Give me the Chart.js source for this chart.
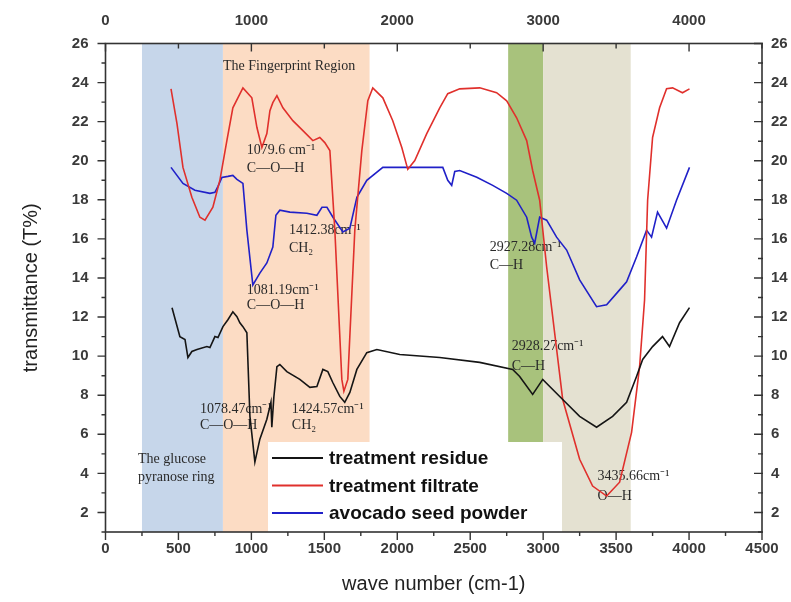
<!DOCTYPE html>
<html><head><meta charset="utf-8">
<script src="https://cdn.jsdelivr.net/npm/chart.js@4.4.0/dist/chart.umd.min.js"></script>
<style>html,body{margin:0;padding:0;background:#fff}#wrap{width:791px;height:602px;position:relative}</style>
</head><body><div id="wrap"><canvas id="c" width="791" height="602"></canvas></div>
<script>
// ---- tick labels ----
const xTicksBottom = [0,500,1000,1500,2000,2500,3000,3500,4000,4500];
const xTicksTop = [0,1000,2000,3000,4000];
const yTicks = [2,4,6,8,10,12,14,16,18,20,22,24,26];

// ---- series ----
const seriesNames = ['treatment residue','treatment filtrate','avocado seed powder'];

const residueX = [456,510,545,565,592,627,695,716,750,771,805,839,873,901,921,942,969,990,1024,1058,1106,1134,1140,1154,1175,1195,1243,1332,1401,1449,1490,1524,1558,1606,1640,1675,1723,1791,1860,2017,2291,2565,2791,2839,2928,2997,3134,3250,3366,3476,3572,3640,3682,3750,3818,3866,3935,4003];
const residueY = [12.48,11.0,10.85,9.93,10.24,10.34,10.49,10.44,11.0,10.95,11.51,11.86,12.27,12.02,11.71,11.51,11.2,6.92,4.58,5.75,6.77,7.64,6.36,7.9,9.46,9.57,9.21,8.81,8.4,8.45,9.32,9.21,8.65,7.94,7.64,8.14,9.32,10.18,10.34,10.08,9.93,9.68,9.32,8.96,8.04,8.81,7.78,6.92,6.36,6.92,7.64,8.96,9.83,10.49,11.0,10.49,11.71,12.48];

const filtrateX = [449,490,531,592,647,682,736,784,832,873,942,1003,1038,1072,1106,1127,1147,1175,1216,1284,1353,1421,1469,1503,1538,1572,1620,1634,1661,1709,1757,1798,1832,1901,1969,2031,2072,2120,2202,2291,2346,2428,2565,2681,2750,2818,2887,2928,2976,3024,3134,3250,3339,3435,3524,3606,3661,3695,3716,3750,3798,3846,3887,3955,4003];
const filtrateY = [23.68,21.9,19.66,18.13,17.11,16.96,17.62,19.0,21.03,22.71,23.73,23.22,21.7,20.68,21.39,22.56,22.97,23.33,22.71,22.05,21.54,21.03,21.19,20.93,20.52,16.45,8.81,8.2,8.81,16.45,20.52,23.07,23.73,23.22,22.05,20.68,19.56,20.01,21.39,22.71,23.43,23.68,23.73,23.48,23.07,22.2,21.03,19.5,17.98,14.56,7.78,4.72,3.35,2.84,3.55,6.1,9.46,12.87,17.98,21.19,22.71,23.68,23.73,23.48,23.68];

const powderX = [449,531,613,716,750,771,798,839,873,901,942,969,1010,1058,1106,1147,1168,1195,1264,1380,1449,1484,1518,1559,1627,1675,1723,1791,1901,1969,2312,2346,2373,2394,2428,2545,2654,2750,2818,2887,2921,2942,2976,3024,3092,3161,3250,3366,3435,3524,3572,3640,3709,3743,3784,3846,3914,4003];
const powderY = [19.66,18.84,18.49,18.33,18.38,18.69,19.15,19.2,19.25,19.05,18.84,16.45,13.64,14.25,14.77,15.58,17.21,17.47,17.37,17.31,17.21,17.62,17.62,17.11,16.35,16.55,18.13,19.0,19.66,19.66,19.66,19.0,18.74,19.45,19.5,19.15,18.74,18.33,17.98,17.11,16.09,15.78,17.11,16.96,16.09,15.43,13.9,12.53,12.63,13.39,13.8,15.07,16.45,16.09,17.37,16.55,17.98,19.66];

// ---- shaded regions (wavenumber ranges) ----
const bandStart = [250, 805, 2760, 3000];
const bandEnd   = [805, 1810, 3000, 3600];

// ---- annotations: text, wavenumber, T% ----
const noteText = ['The Fingerprint Region','1079.6 cm\u207B\u00B9','C\u2014O\u2014H','1412.38cm\u207B\u00B9','CH\u2082','1081.19cm\u207B\u00B9','C\u2014O\u2014H','1078.47cm\u207B\u00B9','C\u2014O\u2014H','1424.57cm\u207B\u00B9','CH\u2082','The glucose','pyranose ring','2927.28cm\u207B\u00B9','C\u2014H','2928.27cm\u207B\u00B9','C\u2014H','3435.66cm\u207B\u00B9','O\u2014H'];
const noteX = [805,969,969,1257,1257,969,969,647,647,1277,1277,223,223,2634,2634,2784,2784,3373,3373];
const noteY = [24.85,20.52,19.6,16.45,15.53,13.39,12.58,7.28,6.46,7.28,6.46,4.73,3.81,15.58,14.66,10.49,9.47,3.86,2.85];

// ---- styles ----
const seriesColors = ['#151515','#e0302c','#2020c8'];
const bandColors = ['#c6d6ea','#fcdcc4','#a8c27c','#e4e1d1'];
const FONT = "'Liberation Sans', Arial, sans-serif";
const SERIF = "'Liberation Serif', 'Times New Roman', serif";

function pts(xs, ys){ return xs.map((x,i)=>({x:x, y:ys[i]})); }

const bgPlugin = {
  id:'bg',
  beforeDatasetsDraw(chart){
    const {ctx, chartArea:{top,bottom}, scales:{x,y}} = chart;
    ctx.save();
    bandStart.forEach((s,i)=>{
      const a = x.getPixelForValue(s), b = x.getPixelForValue(bandEnd[i]);
      ctx.fillStyle = bandColors[i];
      ctx.fillRect(a, top, b-a, bottom-top);
    });
    ctx.fillStyle = '#2a2a2a';
    ctx.font = '14px ' + SERIF;
    ctx.textAlign = 'left'; ctx.textBaseline = 'middle';
    noteText.forEach((t,i)=>{
      ctx.fillText(t, x.getPixelForValue(noteX[i]), y.getPixelForValue(noteY[i]));
    });
    ctx.restore();
  },
  afterDatasetsDraw(chart){
    const {ctx, chartArea:{left,right,top,bottom}, scales:{x,y}} = chart;
    ctx.save();
    // legend box
    const lx = 268, ly = 442;
    ctx.fillStyle = '#ffffff';
    ctx.fillRect(lx, ly, 294, bottom - ly);
    ctx.font = 'bold 19px ' + FONT;
    ctx.textAlign = 'left'; ctx.textBaseline = 'middle';
    seriesNames.forEach((n,i)=>{
      const yy = 458 + i*27.5;
      ctx.strokeStyle = seriesColors[i]; ctx.lineWidth = 1.8;
      ctx.beginPath(); ctx.moveTo(lx+4, yy); ctx.lineTo(lx+55, yy); ctx.stroke();
      ctx.fillStyle = '#111';
      ctx.fillText(n, lx+61, yy+1);
    });
    // frame
    ctx.strokeStyle = '#333'; ctx.lineWidth = 1.6;
    ctx.strokeRect(left, top, right-left, bottom-top);
    ctx.lineWidth = 1.4;
    ctx.beginPath();
    for (let v=0; v<=4500; v+=250){
      const px = x.getPixelForValue(v);
      const len = v%500===0 ? 8 : 4;
      ctx.moveTo(px, bottom); ctx.lineTo(px, bottom+len);
    }
    for (let v=0; v<=4500; v+=500){
      const px = x.getPixelForValue(v);
      const len = v%1000===0 ? 8 : 5;
      ctx.moveTo(px, top); ctx.lineTo(px, top+len);
    }
    for (let v=1; v<=26; v++){
      const py = y.getPixelForValue(v);
      const len = v%2===0 ? 8 : 4;
      ctx.moveTo(left-len, py); ctx.lineTo(left, py);
      ctx.moveTo(right-len, py); ctx.lineTo(right+1, py);
    }
    ctx.stroke();
    ctx.restore();
  }
};

const tickFont = {family: FONT, size: 15, weight: 'bold'};
function fixTicks(arr){ return s => { s.ticks = arr.map(v=>({value:v})); }; }
const plain = v => String(v);

new Chart(document.getElementById('c'), {
  type: 'scatter',
  data: {
    datasets: [
      {label: seriesNames[0], data: pts(residueX, residueY), borderColor: seriesColors[0]},
      {label: seriesNames[1], data: pts(filtrateX, filtrateY), borderColor: seriesColors[1]},
      {label: seriesNames[2], data: pts(powderX, powderY), borderColor: seriesColors[2]}
    ].map(d => Object.assign(d, {showLine:true, borderWidth:1.6, pointRadius:0, tension:0, fill:false, xAxisID:'x', yAxisID:'y'}))
  },
  options: {
    responsive: false, animation: false, devicePixelRatio: 1,
    layout: {padding: 0},
    plugins: {legend: {display:false}, tooltip: {enabled:false}},
    scales: {
      x: {type:'linear', position:'bottom', min:0, max:4500,
          afterBuildTicks: fixTicks(xTicksBottom),
          grid:{display:false, drawTicks:false}, border:{display:false},
          ticks:{font:tickFont, color:'#3a3a3a', padding:8, maxRotation:0, autoSkip:false, callback: plain},
          title:{display:true, text:'wave number (cm-1)', font:{family:FONT, size:20}, color:'#222', padding:{top:0, bottom:6}},
          afterFit: s => { s.height = 70; }},
      x2: {type:'linear', position:'top', min:0, max:4500,
          afterBuildTicks: fixTicks(xTicksTop),
          grid:{display:false, drawTicks:false}, border:{display:false},
          ticks:{font:tickFont, color:'#3a3a3a', padding:14, maxRotation:0, autoSkip:false, callback: plain},
          afterFit: s => { s.height = 43.5; }},
      y: {type:'linear', position:'left', min:1, max:26,
          afterBuildTicks: fixTicks(yTicks),
          grid:{display:false, drawTicks:false}, border:{display:false},
          ticks:{font:tickFont, color:'#3a3a3a', padding:17, autoSkip:false, callback: plain},
          title:{display:true, text:'transmittance (T%)', font:{family:FONT, size:20}, color:'#222', padding:{top:19, bottom:0}},
          afterFit: s => { s.width = 105.5; }},
      y2: {type:'linear', position:'right', min:1, max:26,
          afterBuildTicks: fixTicks(yTicks),
          grid:{display:false, drawTicks:false}, border:{display:false},
          ticks:{font:tickFont, color:'#3a3a3a', padding:9, autoSkip:false, callback: plain},
          afterFit: s => { s.width = 29; }}
    }
  },
  plugins: [bgPlugin]
});
</script>
</body></html>
